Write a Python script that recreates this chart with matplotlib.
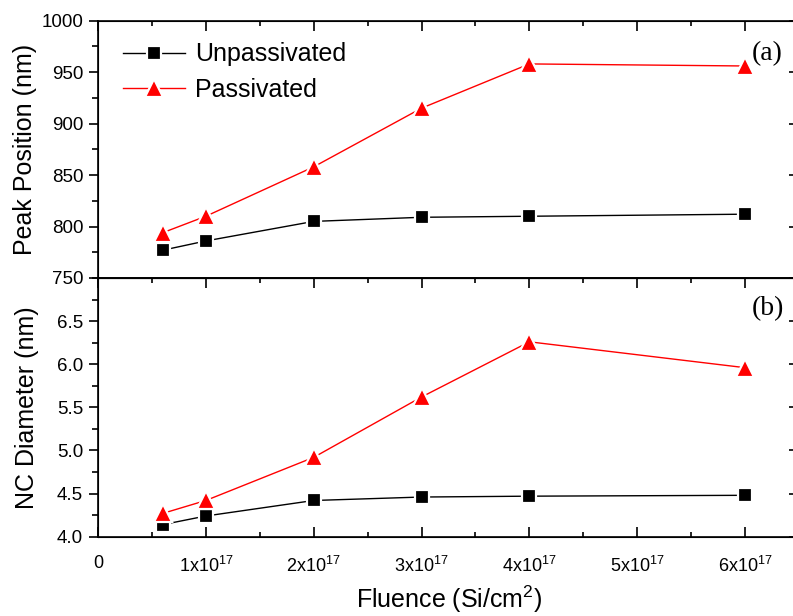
import matplotlib
matplotlib.use('Agg')
import matplotlib.pyplot as plt
from matplotlib.ticker import MultipleLocator, FixedLocator

plt.rcParams['font.family'] = ['Liberation Sans', 'DejaVu Sans']
plt.rcParams['mathtext.fontset'] = 'custom'
plt.rcParams['mathtext.rm'] = 'Liberation Sans'
plt.rcParams['mathtext.it'] = 'Liberation Sans'
plt.rcParams['mathtext.default'] = 'regular'

# ---------------- data ----------------
fluence = [0.6e17, 1e17, 2e17, 3e17, 4e17, 6e17]
peak_unpassivated = [777, 786, 805, 809, 810, 812]
peak_passivated = [794, 810, 858, 915, 958, 956]
diam_unpassivated = [4.14, 4.24, 4.42, 4.46, 4.47, 4.48]
diam_passivated = [4.27, 4.42, 4.92, 5.62, 6.26, 5.96]

xtick_values = [0, 1e17, 2e17, 3e17, 4e17, 5e17, 6e17]
xtick_labels = ['0', '1x10$^{17}$', '2x10$^{17}$', '3x10$^{17}$',
                '4x10$^{17}$', '5x10$^{17}$', '6x10$^{17}$']
peak_ticks = [750, 800, 850, 900, 950, 1000]
diam_ticks = [4.0, 4.5, 5.0, 5.5, 6.0, 6.5]

series_names = ['Unpassivated', 'Passivated']

# ---------------- figure ----------------
W, H = 793, 616
fig = plt.figure(figsize=(W / 100, H / 100), dpi=100)

left = 98 / W
right = 799 / W
top = 1 - 20.7 / H
mid = 1 - 278 / H
bot = 1 - 536.7 / H

ax1 = fig.add_axes([left, mid, right - left, top - mid])
ax2 = fig.add_axes([left, bot, right - left, mid - bot])

sq_kw = dict(color='black', marker='s', markersize=9.6, lw=1.0,
             markeredgecolor='white', markeredgewidth=1.6)
tr_kw = dict(color='#ff0000', marker='^', markersize=12.8, lw=1.0,
             markeredgecolor='white', markeredgewidth=1.6)

ax1.plot(fluence, peak_unpassivated, label=series_names[0], **sq_kw)
ax1.plot(fluence, peak_passivated, label=series_names[1], **tr_kw)
ax2.plot(fluence, diam_unpassivated, **sq_kw)
ax2.plot(fluence, diam_passivated, **tr_kw)

ax1.set_ylim(750, 1000)
ax2.set_ylim(4.0, 7.0)
for ax in (ax1, ax2):
    ax.set_xlim(0, 6.5e17)
    ax.xaxis.set_major_locator(FixedLocator(xtick_values))
    ax.xaxis.set_minor_locator(MultipleLocator(0.5e17))
    for s in ax.spines.values():
        s.set_linewidth(1.2)

ax1.yaxis.set_major_locator(FixedLocator(peak_ticks))
ax1.yaxis.set_minor_locator(MultipleLocator(25))
ax2.yaxis.set_major_locator(FixedLocator(diam_ticks))
ax2.yaxis.set_minor_locator(MultipleLocator(0.25))

ax1.set_xticklabels([])
ax2.set_xticklabels(xtick_labels)

# tick styles
ax1.tick_params(axis='x', which='both', bottom=False, top=True, direction='in',
                labelbottom=False)
ax2.tick_params(axis='x', which='both', bottom=True, top=True, direction='in',
                labelsize=13, pad=13.5)
for ax in (ax1, ax2):
    ax.tick_params(axis='x', which='major', length=7, width=1.2)
    ax.tick_params(axis='x', which='minor', length=3.8, width=1.2)
    ax.tick_params(axis='y', which='both', left=True, right=False, direction='out',
                   labelsize=13.5, pad=4)
    ax.tick_params(axis='y', which='major', length=6.7, width=1.2)
    ax.tick_params(axis='y', which='minor', length=4.3, width=1.2)
    # right-hand inward ticks
    tw = ax.twinx()
    tw.set_ylim(ax.get_ylim())
    tw.yaxis.set_major_locator(FixedLocator(ax.yaxis.get_majorticklocs()))
    tw.tick_params(axis='y', which='major', direction='in', length=7, width=1.2,
                   labelright=False)
    tw.spines['right'].set_linewidth(1.2)

ax1.set_ylabel('Peak Position (nm)', fontsize=18)
ax1.yaxis.set_label_coords(-0.087, 0.5)
ax2.set_ylabel('NC Diameter (nm)', fontsize=18)
ax2.yaxis.set_label_coords(-0.084, 0.5)

fig.text(449 / W, 1 - 608 / H, 'Fluence (Si/cm$^2$)', ha='center', va='baseline',
         fontsize=18)

ax1.legend(loc='upper left', bbox_to_anchor=(0.0357, 0.916), frameon=False,
           fontsize=18, handlelength=2.48, handletextpad=0.4, labelspacing=0.47,
           borderpad=0, borderaxespad=0, numpoints=1)

ax1.text(0.954, 0.872, '(a)', transform=ax1.transAxes, ha='center', va='center',
         fontsize=20, family='Liberation Serif')
ax2.text(0.956, 0.882, '(b)', transform=ax2.transAxes, ha='center', va='center',
         fontsize=20, family='Liberation Serif')

fig.savefig('out.png', dpi=100)
